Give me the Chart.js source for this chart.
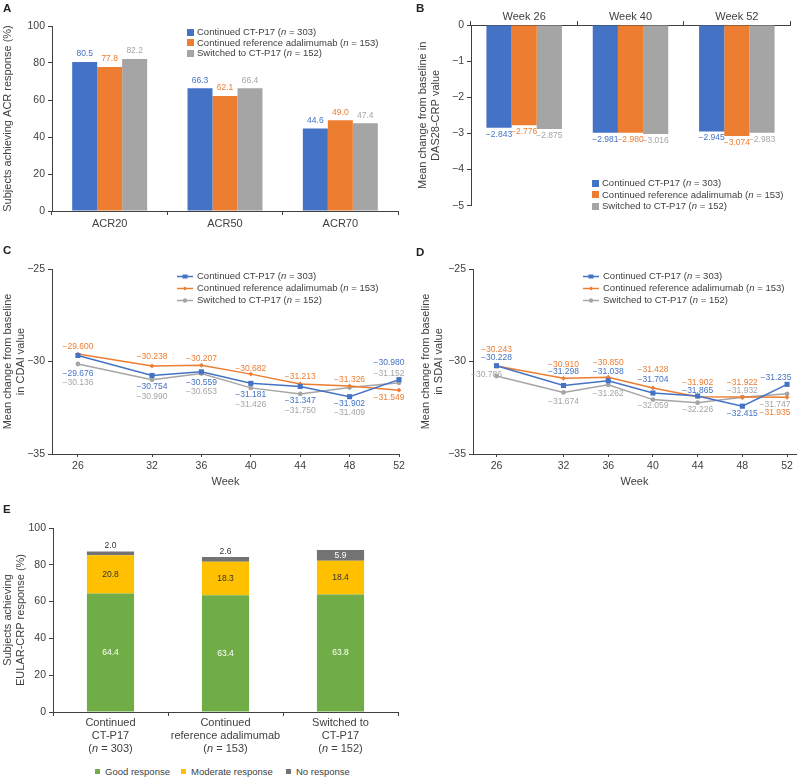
<!DOCTYPE html>
<html>
<head>
<meta charset="utf-8">
<script src="https://cdn.jsdelivr.net/npm/chart.js@4"></script>
<style>
  body { margin: 0; background: #fff; font-family: "Liberation Sans", Arial, sans-serif; }
  #fig { position: relative; width: 800px; height: 780px; overflow: hidden; }
  canvas { position: absolute; }
  .letter { position: absolute; font-weight: bold; font-size: 11.5px; color: #222; }
  .legend { position: absolute; font-size: 9.5px; color: #404040; white-space: nowrap; }
  .legend .sw { display: inline-block; width: 7px; height: 7px; margin-right: 3px; vertical-align: -0.5px; }
  .legend svg { vertical-align: -1px; margin-right: 4px; }
  .eitem { position: absolute; top: 766px; font-size: 9.5px; color: #404040; white-space: nowrap; line-height: 12px; }
  .eitem span { display: inline-block; width: 5px; height: 5px; margin-right: 5px; vertical-align: 1px; }
</style>
</head>
<body>
<div id="fig">
  <canvas id="chartA" width="400" height="240" style="left:0;top:0"></canvas>
  <canvas id="chartB" width="400" height="215" style="left:400px;top:0"></canvas>
  <canvas id="chartC" width="410" height="245" style="left:0;top:255px"></canvas>
  <canvas id="chartD" width="400" height="245" style="left:400px;top:255px"></canvas>
  <canvas id="chartE" width="400" height="262" style="left:0;top:500px"></canvas>

  <div class="letter" style="left:3px;top:2px">A</div>
  <div class="letter" style="left:416px;top:2px">B</div>
  <div class="letter" style="left:3px;top:244px">C</div>
  <div class="letter" style="left:416px;top:246px">D</div>
  <div class="letter" style="left:3px;top:503px">E</div>

  <div class="legend" style="left:187px;top:27px;line-height:10.7px">
    <div><span class="sw" style="background:#4472C4"></span>Continued CT-P17 (<i>n</i> = 303)</div>
    <div><span class="sw" style="background:#ED7D31"></span>Continued reference adalimumab (<i>n</i> = 153)</div>
    <div><span class="sw" style="background:#A5A5A5"></span>Switched to CT-P17 (<i>n</i> = 152)</div>
  </div>
  <div class="legend" style="left:592px;top:177px;line-height:11.5px">
    <div><span class="sw" style="background:#4472C4"></span>Continued CT-P17 (<i>n</i> = 303)</div>
    <div><span class="sw" style="background:#ED7D31"></span>Continued reference adalimumab (<i>n</i> = 153)</div>
    <div><span class="sw" style="background:#A5A5A5"></span>Switched to CT-P17 (<i>n</i> = 152)</div>
  </div>
  <div class="legend" style="left:177px;top:270px;line-height:12px">
    <div><svg width="16" height="7"><line x1="0" y1="3.5" x2="16" y2="3.5" stroke="#4472C4" stroke-width="1.5"/><rect x="5.5" y="1.5" width="5" height="4" fill="#4472C4"/></svg>Continued CT-P17 (<i>n</i> = 303)</div>
    <div><svg width="16" height="7"><line x1="0" y1="3.5" x2="16" y2="3.5" stroke="#ED7D31" stroke-width="1.5"/><polygon points="8,1.5 10,3.5 8,5.5 6,3.5" fill="#ED7D31"/></svg>Continued reference adalimumab (<i>n</i> = 153)</div>
    <div><svg width="16" height="7"><line x1="0" y1="3.5" x2="16" y2="3.5" stroke="#A5A5A5" stroke-width="1.5"/><circle cx="8" cy="3.5" r="2.2" fill="#A5A5A5"/></svg>Switched to CT-P17 (<i>n</i> = 152)</div>
  </div>
  <div class="legend" style="left:583px;top:270px;line-height:12px">
    <div><svg width="16" height="7"><line x1="0" y1="3.5" x2="16" y2="3.5" stroke="#4472C4" stroke-width="1.5"/><rect x="5.5" y="1.5" width="5" height="4" fill="#4472C4"/></svg>Continued CT-P17 (<i>n</i> = 303)</div>
    <div><svg width="16" height="7"><line x1="0" y1="3.5" x2="16" y2="3.5" stroke="#ED7D31" stroke-width="1.5"/><polygon points="8,1.5 10,3.5 8,5.5 6,3.5" fill="#ED7D31"/></svg>Continued reference adalimumab (<i>n</i> = 153)</div>
    <div><svg width="16" height="7"><line x1="0" y1="3.5" x2="16" y2="3.5" stroke="#A5A5A5" stroke-width="1.5"/><circle cx="8" cy="3.5" r="2.2" fill="#A5A5A5"/></svg>Switched to CT-P17 (<i>n</i> = 152)</div>
  </div>

  <div class="eitem" style="left:95px"><span style="background:#70AD47"></span>Good response</div>
  <div class="eitem" style="left:181px"><span style="background:#FFC000"></span>Moderate response</div>
  <div class="eitem" style="left:286px"><span style="background:#737373"></span>No response</div>
</div>

<script>
// ---- data ----
const groupNames = ['Continued CT-P17', 'Continued reference adalimumab', 'Switched to CT-P17'];

// A: ACR response (%)
const acrLabels = ['ACR20', 'ACR50', 'ACR70'];
const acrCT = [80.5, 66.3, 44.6];
const acrRef = [77.8, 62.1, 49.0];
const acrSw = [82.2, 66.4, 47.4];

// B: DAS28-CRP change
const dasLabels = ['Week 26', 'Week 40', 'Week 52'];
const dasCT = [-2.843, -2.981, -2.945];
const dasRef = [-2.776, -2.980, -3.074];
const dasSw = [-2.875, -3.016, -2.983];

// C / D: weeks
const weeks = [26, 32, 36, 40, 44, 48, 52];
const cdaiCT = [-29.676, -30.754, -30.559, -31.181, -31.347, -31.902, -30.980];
const cdaiRef = [-29.600, -30.238, -30.207, -30.682, -31.213, -31.326, -31.549];
const cdaiSw = [-30.136, -30.990, -30.653, -31.426, -31.750, -31.409, -31.152];
const sdaiCT = [-30.228, -31.298, -31.038, -31.704, -31.865, -32.415, -31.235];
const sdaiRef = [-30.243, -30.910, -30.850, -31.428, -31.902, -31.922, -31.935];
const sdaiSw = [-30.786, -31.674, -31.262, -32.059, -32.226, -31.932, -31.747];

// E: EULAR-CRP response (%)
const eularGroups = [['Continued', 'CT-P17'], ['Continued', 'reference adalimumab'], ['Switched to', 'CT-P17']];
const eularN = [303, 153, 152];
const eularGood = [64.4, 63.4, 63.8];
const eularModerate = [20.8, 18.3, 18.4];
const eularNone = [2.0, 2.6, 5.9];

// label placement (pixel nudges for the value labels in C and D)
const cDy = [[18, 11.7, 10.6, 11, 14, 6.7, -17.3], [-7.3, -9, -7, -5.5, -7, -6.7, 7], [19, 16.7, 18.4, 16.3, 16.3, 25, -9.6]];
const cDx = [[0, 0, 0, 0, 0, 0, -10], [0, 0, 0, 0, 0, 0, -10], [0, 0, 0, 0, 0, 0, -10]];
const dDy = [[-7.7, -13.6, -9, -13.4, -5.7, 7.6, -6.6], [-16, -14, -14.4, -18.4, -14, -14.4, 15], [-1.7, 8.7, 8.4, 5.6, 6.6, -6.7, 10.6]];
const dDx = [[0, 0, 0, 0, 0, 0, -11], [0, 0, 0, 0, 0, 0, -12], [-10, 0, 0, 0, 0, 0, -12]];

// ---- styling ----
const FONT = '"Liberation Sans", Arial, sans-serif';
const BLUE = '#4472C4', ORANGE = '#ED7D31', GRAY = '#A5A5A5';
const AXIS = '#404040', TXT = '#404040';
Chart.defaults.font.family = FONT;
Chart.defaults.color = TXT;

const minus = s => String(s).replace('-', '\u2212');
const fmt3 = v => minus(v.toFixed(3));

function valueLabels(place) {
  return {
    id: 'valueLabels',
    afterDatasetsDraw(chart) {
      const ctx = chart.ctx;
      ctx.save();
      ctx.textAlign = 'center';
      ctx.textBaseline = 'middle';
      ctx.font = '8.5px ' + FONT;
      chart.data.datasets.forEach((ds, di) => {
        chart.getDatasetMeta(di).data.forEach((el, i) => {
          const raw = ds.data[i];
          const v = typeof raw === 'object' ? raw.y : raw;
          const p = place(el, di, i, v);
          ctx.fillStyle = p.color;
          ctx.fillText(p.text, p.x, p.y);
        });
      });
      ctx.restore();
    }
  };
}

const yGrid = { drawOnChartArea: false, tickLength: 4, color: AXIS };
const border = { color: AXIS, width: 1 };
const titleFont = { size: 11, lineHeight: 1.2 };
const base = {
  responsive: false,
  animation: false,
  events: [],
};
const noPlug = { legend: { display: false }, tooltip: { enabled: false } };

// ---- A ----
new Chart(document.getElementById('chartA'), {
  type: 'bar',
  data: {
    labels: acrLabels,
    datasets: [
      { label: groupNames[0], data: acrCT, backgroundColor: BLUE },
      { label: groupNames[1], data: acrRef, backgroundColor: ORANGE },
      { label: groupNames[2], data: acrSw, backgroundColor: GRAY }
    ]
  },
  options: {
    ...base,
    layout: { padding: { top: 26, right: 2, left: 0, bottom: 0 } },
    plugins: noPlug,
    datasets: { bar: { barPercentage: 1, categoryPercentage: 0.65 } },
    scales: {
      x: {
        grid: { drawOnChartArea: false, tickLength: 4, color: AXIS, offset: true },
        border,
        ticks: { font: { size: 11 }, padding: 2 },
        afterFit: s => { s.height = 29; }
      },
      y: {
        min: 0, max: 100,
        ticks: { stepSize: 20, font: { size: 10.5 }, padding: 3 },
        grid: yGrid, border,
        title: { display: true, text: 'Subjects achieving ACR response (%)', font: titleFont, padding: { top: 1.4 } },
        afterFit: s => { s.width = 52; }
      }
    }
  },
  plugins: [valueLabels((el, di, i, v) => ({
    x: el.x, y: el.y - 8, text: v.toFixed(1), color: [BLUE, ORANGE, GRAY][di]
  }))]
});

// ---- B ----
new Chart(document.getElementById('chartB'), {
  type: 'bar',
  data: {
    labels: dasLabels,
    datasets: [
      { label: groupNames[0], data: dasCT, backgroundColor: BLUE },
      { label: groupNames[1], data: dasRef, backgroundColor: ORANGE },
      { label: groupNames[2], data: dasSw, backgroundColor: GRAY }
    ]
  },
  options: {
    ...base,
    layout: { padding: { top: 0, right: 10, left: 0, bottom: 4 } },
    plugins: noPlug,
    datasets: { bar: { barPercentage: 1, categoryPercentage: 0.71 } },
    scales: {
      x: {
        position: 'top',
        grid: { drawOnChartArea: false, tickLength: 4, color: AXIS, offset: true },
        border,
        ticks: { font: { size: 11 }, padding: -3 },
        afterFit: s => { s.height = 25; }
      },
      y: {
        min: -5, max: 0,
        ticks: { stepSize: 1, font: { size: 10.5 }, padding: 3, callback: v => minus(v) },
        grid: yGrid, border,
        title: { display: true, text: ['Mean change from baseline in', 'DAS28-CRP value'], font: titleFont, padding: { top: 16.5 } },
        afterFit: s => { s.width = 71; }
      }
    }
  },
  plugins: [valueLabels((el, di, i, v) => ({
    x: el.x, y: el.y + 6.5, text: fmt3(v), color: [BLUE, ORANGE, GRAY][di]
  }))]
});

// ---- C and D (line charts) ----
function lineChart(id, series, dy, dx, yTitle, yWidth, titlePad, xMax, padRight) {
  const colors = [BLUE, ORANGE, GRAY];
  const styles = [
    { pointStyle: 'rect', pointRadius: 3.6 },
    { pointStyle: 'rectRot', pointRadius: 2.4 },
    { pointStyle: 'circle', pointRadius: 2.4 }
  ];
  return new Chart(document.getElementById(id), {
    type: 'line',
    data: {
      datasets: series.map((vals, k) => ({
        label: groupNames[k],
        data: weeks.map((w, i) => ({ x: w, y: vals[i] })),
        borderColor: colors[k],
        backgroundColor: colors[k],
        borderWidth: 1.5,
        pointBorderWidth: 0,
        clip: false,
        ...styles[k]
      }))
    },
    options: {
      ...base,
      layout: { padding: { top: 14, right: padRight, left: 0, bottom: 0 } },
      plugins: noPlug,
      scales: {
        x: {
          type: 'linear', min: 23.9, max: xMax,
          afterBuildTicks: s => { s.ticks = weeks.map(v => ({ value: v })); },
          grid: { drawOnChartArea: false, tickLength: 3, color: AXIS },
          border,
          ticks: { font: { size: 10.5 }, padding: 3, maxRotation: 0 },
          title: { display: true, text: 'Week', font: titleFont, padding: { bottom: 11.5 } },
          afterFit: s => { s.height = 46; }
        },
        y: {
          min: -35, max: -25,
          ticks: { stepSize: 5, font: { size: 10.5 }, padding: 3, callback: v => minus(v) },
          grid: yGrid, border,
          title: { display: true, text: yTitle, font: titleFont, padding: { top: titlePad } },
          afterFit: s => { s.width = yWidth; }
        }
      }
    },
    plugins: [valueLabels((el, di, i, v) => ({
      x: el.x + dx[di][i], y: el.y + dy[di][i], text: fmt3(v), color: colors[di]
    }))]
  });
}

lineChart('chartC', [cdaiCT, cdaiRef, cdaiSw], cDy, cDx,
  ['Mean change from baseline', 'in CDAI value'], 52, 1.4, 52, 11);
lineChart('chartD', [sdaiCT, sdaiRef, sdaiSw], dDy, dDx,
  ['Mean change from baseline', 'in SDAI value'], 73, 19.4, 52.8, 2);

// ---- E ----
const eTickLabels = {
  id: 'eTickLabels',
  afterDraw(chart) {
    const ctx = chart.ctx, xs = chart.scales.x, b = chart.chartArea.bottom;
    const normal = '11px ' + FONT, italic = 'italic 11px ' + FONT;
    ctx.save();
    ctx.fillStyle = TXT;
    ctx.textBaseline = 'middle';
    eularGroups.forEach((lines, i) => {
      const x = xs.getPixelForValue(i);
      ctx.font = normal;
      ctx.textAlign = 'center';
      ctx.fillText(lines[0], x, b + 11);
      ctx.fillText(lines[1], x, b + 24);
      const parts = [['(', normal], ['n', italic], [' = ' + eularN[i] + ')', normal]];
      let w = 0;
      parts.forEach(p => { ctx.font = p[1]; w += ctx.measureText(p[0]).width; });
      let cx = x - w / 2;
      ctx.textAlign = 'left';
      parts.forEach(p => { ctx.font = p[1]; ctx.fillText(p[0], cx, b + 37); cx += ctx.measureText(p[0]).width; });
    });
    ctx.restore();
  }
};

new Chart(document.getElementById('chartE'), {
  type: 'bar',
  data: {
    labels: eularGroups.map(g => g.join(' ')),
    datasets: [
      { label: 'Good response', data: eularGood, backgroundColor: '#70AD47' },
      { label: 'Moderate response', data: eularModerate, backgroundColor: '#FFC000' },
      { label: 'No response', data: eularNone, backgroundColor: '#737373' }
    ]
  },
  options: {
    ...base,
    layout: { padding: { top: 28, right: 2, left: 0, bottom: 0 } },
    plugins: noPlug,
    datasets: { bar: { barPercentage: 0.41, categoryPercentage: 1 } },
    scales: {
      x: {
        stacked: true,
        grid: { drawOnChartArea: false, tickLength: 4, color: AXIS, offset: true },
        border,
        ticks: { display: false },
        afterFit: s => { s.height = 50; }
      },
      y: {
        stacked: true,
        min: 0, max: 100,
        ticks: { stepSize: 20, font: { size: 10.5 }, padding: 3 },
        grid: yGrid, border,
        title: { display: true, text: ['Subjects achieving', 'EULAR-CRP response (%)'], font: titleFont, padding: { top: 1.4 } },
        afterFit: s => { s.width = 53; }
      }
    }
  },
  plugins: [eTickLabels, valueLabels((el, di, i, v) => {
    const mid = (el.y + el.base) / 2;
    if (di === 0) return { x: el.x, y: mid, text: v.toFixed(1), color: '#ffffff' };
    if (di === 1) return { x: el.x, y: mid, text: v.toFixed(1), color: '#333333' };
    if (v < 5) return { x: el.x, y: el.y - 5.5, text: v.toFixed(1), color: '#333333' };
    return { x: el.x, y: mid, text: v.toFixed(1), color: '#ffffff' };
  })]
});
</script>
</body>
</html>
